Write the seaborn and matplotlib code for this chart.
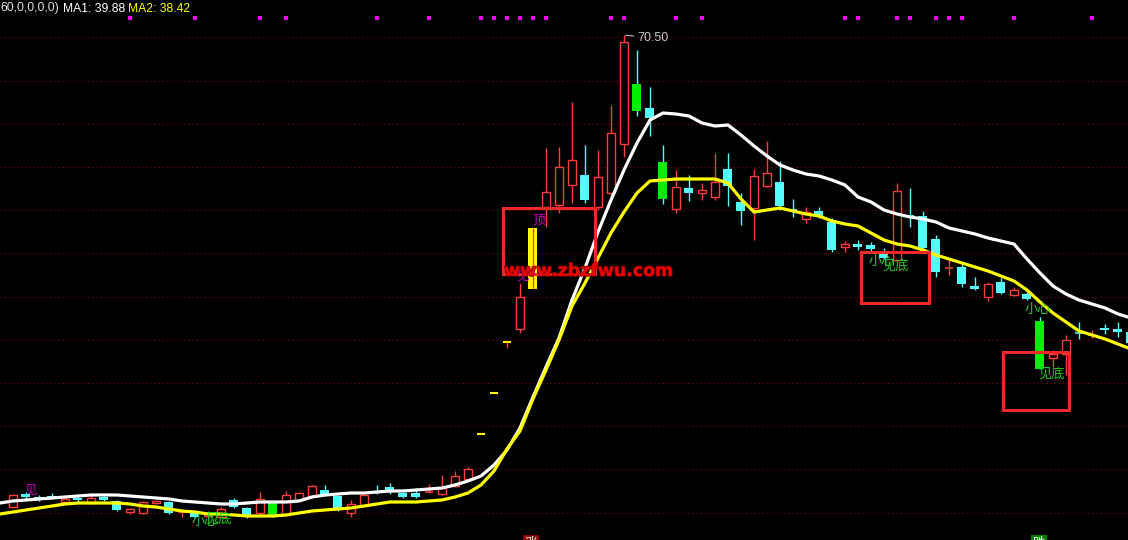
import matplotlib
matplotlib.use("Agg")
import matplotlib.pyplot as plt
import matplotlib.transforms as mtransforms
import matplotlib.patheffects as pe
from matplotlib.patches import Rectangle
import numpy as np
import pandas as pd
import seaborn as sns

# daily candles, index 0..86 (prices)
opens = [23.3, 24.6, 24.3, 24.4, 23.8, 24.2, 23.7, 24.3, 23.9, 22.8,
         22.7, 23.7, 23.8, 22.7, 22.7, 22.4, 22.3, 24.0, 23.2, 22.7,
         23.7, 22.5, 24.0, 24.4, 25.0, 24.4, 22.7, 23.4, 24.9, 25.3,
         24.7, 24.7, 24.7, 24.6, 25.4, 26.1, 30.6, 34.7, 39.8, 41.1,
         45.1, 53.3, 53.5, 55.5, 56.5, 53.3, 54.7, 59.6, 65.6, 63.2,
         57.8, 53.1, 55.2, 54.7, 54.3, 57.1, 53.8, 53.2, 55.4, 55.8,
         53.1, 52.1, 52.9, 51.8, 49.3, 49.6, 49.5, 48.9, 48.0, 52.5,
         52.4, 50.1, 47.1, 47.3, 45.4, 44.3, 45.8, 44.5, 44.6, 41.9,
         38.2, 38.6, 40.7, 40.5, 41.2, 41.1, 40.8]
highs = [24.6, 24.8, 24.5, 24.7, 24.2, 24.4, 24.7, 24.4, 24.0, 23.2,
         23.9, 24.0, 23.9, 22.8, 22.8, 22.9, 23.3, 24.2, 23.3, 24.8,
         23.8, 24.9, 24.8, 25.5, 25.5, 24.5, 24.0, 24.6, 25.5, 25.7,
         24.8, 25.2, 25.6, 26.5, 26.9, 27.3, 30.6, 34.7, 39.8, 45.7,
         51.2, 59.2, 59.3, 63.8, 59.5, 59.0, 63.5, 70.5, 69.0, 65.3,
         59.5, 57.0, 56.5, 55.7, 58.7, 58.7, 54.7, 57.1, 59.9, 57.9,
         54.1, 53.3, 53.3, 52.2, 49.9, 50.0, 49.8, 49.2, 55.7, 55.2,
         52.9, 50.5, 48.1, 47.7, 46.3, 45.8, 46.2, 45.3, 44.8, 42.3,
         39.0, 40.5, 41.8, 41.0, 41.6, 41.8, 41.0]
lows = [23.2, 24.1, 23.9, 24.1, 23.7, 23.8, 23.6, 23.9, 22.9, 22.6,
        22.6, 23.6, 22.6, 22.3, 22.2, 22.2, 22.2, 23.2, 22.2, 22.6,
        22.3, 22.4, 23.9, 24.3, 24.4, 22.9, 22.3, 23.3, 24.6, 24.6,
        24.2, 24.2, 24.7, 24.5, 25.3, 26.0, 30.6, 34.7, 39.2, 40.7,
        45.1, 51.3, 52.7, 53.7, 53.7, 53.0, 54.0, 58.3, 62.4, 60.4,
        53.6, 52.7, 53.9, 54.0, 54.0, 53.4, 51.5, 50.0, 55.3, 53.0,
        52.3, 51.7, 52.2, 48.8, 48.8, 49.0, 48.8, 48.1, 47.8, 51.3,
        48.7, 46.3, 46.5, 45.3, 45.0, 43.9, 44.6, 44.4, 44.0, 37.1,
        37.3, 36.5, 40.1, 40.2, 40.6, 40.3, 39.5]
closes = [24.5, 24.3, 24.0, 24.2, 24.1, 24.0, 24.2, 24.0, 23.0, 23.1,
          23.8, 23.9, 22.7, 22.8, 22.3, 22.7, 23.1, 23.3, 22.3, 24.1,
          22.3, 24.5, 24.7, 25.4, 24.5, 23.0, 23.6, 24.5, 24.7, 25.0,
          24.3, 24.3, 24.8, 25.2, 26.4, 27.1, 30.6, 34.7, 39.8, 44.3,
          51.2, 54.8, 57.3, 58.0, 54.0, 56.3, 60.7, 69.8, 62.9, 62.2,
          54.1, 55.3, 54.7, 55.0, 55.8, 55.4, 52.9, 56.4, 56.7, 53.4,
          52.9, 52.8, 52.4, 49.0, 49.6, 49.3, 49.1, 48.2, 54.9, 52.3,
          49.2, 46.8, 47.2, 45.6, 45.1, 45.6, 44.7, 45.0, 44.1, 37.1,
          38.6, 40.0, 40.7, 40.5, 41.0, 40.8, 39.7]
# u = up (hollow red), d = down (cyan), g = green signal bar, y = yellow signal bar
kinds = ("u d d d u d u d d u "
         "u u d u d u u d d u "
         "g u u u d d u u d d "
         "d d u u u u y y y u "
         "y u u u d u u u g d "
         "g u d u u d d u u d "
         "d u d d u d d d u d "
         "d d u d d u d u d g "
         "u u d u d d d").split()

# moving averages, index -1..86
ma_idx = list(range(-1, 87))
ma1 = [23.7, 23.9, 24.0, 24.1, 24.2, 24.3, 24.4, 24.5, 24.5, 24.5,
       24.4, 24.3, 24.2, 24.1, 23.9, 23.8, 23.7, 23.6, 23.6, 23.7,
       23.8, 23.8, 23.8, 23.9, 24.3, 24.5, 24.6, 24.7, 24.7, 24.8,
       24.9, 24.9, 25.0, 25.1, 25.2, 25.5, 25.9, 26.4, 27.5, 29.0,
       31.2, 34.3, 37.3, 40.2, 44.0, 47.2, 50.8, 54.0, 57.0, 59.7,
       62.0, 62.7, 62.6, 62.4, 61.7, 61.4, 61.5, 60.5, 59.4, 58.4,
       57.5, 57.0, 56.6, 56.4, 56.0, 55.5, 54.3, 53.8, 53.0, 52.6,
       52.3, 52.1, 51.8, 51.2, 50.9, 50.6, 50.2, 49.9, 49.6, 48.1,
       46.7, 45.4, 44.6, 44.0, 43.6, 43.2, 42.6, 42.2]
ma2 = [22.6, 22.8, 23.0, 23.2, 23.4, 23.6, 23.7, 23.7, 23.7, 23.7,
       23.6, 23.4, 23.3, 23.1, 22.9, 22.8, 22.6, 22.6, 22.5, 22.4,
       22.4, 22.4, 22.5, 22.7, 22.9, 23.0, 23.1, 23.2, 23.4, 23.6,
       23.8, 23.8, 23.8, 23.9, 24.0, 24.3, 24.7, 25.5, 26.9, 29.1,
       30.9, 34.1, 37.0, 40.0, 43.4, 45.7, 48.2, 50.7, 52.8, 54.7,
       55.9, 56.0, 56.1, 56.1, 56.1, 56.1, 55.7, 54.1, 52.8, 53.0,
       53.2, 52.9, 52.6, 52.4, 51.9, 51.6, 51.4, 50.7, 50.0, 49.6,
       49.4, 49.0, 48.5, 48.1, 47.7, 47.3, 46.9, 46.4, 45.9, 45.0,
       43.8, 42.7, 41.8, 40.9, 40.5, 40.1, 39.6, 39.1]

# bars flagged by the indicator (magenta dots at the top)
flag_idx = [9, 14, 19, 21, 28, 32, 36, 37, 38, 39, 40, 41, 46, 47, 51, 53,
            64, 65, 68, 69, 71, 72, 73, 77, 83]

grid_levels = [70.27, 65.95, 61.63, 57.31, 52.99, 48.67, 44.35, 40.03,
               35.71, 31.39, 27.07, 22.75]

RED = "#ff3c3c"
CYAN = "#54fcfc"
GREEN = "#00ee00"
YELLOW = "#ffff00"
MAGENTA = "#ff00ff"
TXT_GREEN = "#1ed21e"

sns.set_style("dark", {"axes.facecolor": "black", "figure.facecolor": "black"})
plt.rcParams["font.family"] = ["Liberation Sans", "Noto Sans CJK SC", "DejaVu Sans"]

fig = plt.figure(figsize=(11.28, 5.4), dpi=100)
ax = fig.add_axes([0, 0, 1, 1])
ax.set_xlim(-1, 85.77)
ax.set_ylim(20.0, 74.0)
ax.set_axis_off()

for lv in grid_levels:
    ax.axhline(lv, color="#a00000", lw=0.75, ls=(0, (1, 3)), zorder=1)

x = np.arange(len(opens))
o = np.array(opens)
h = np.array(highs)
l = np.array(lows)
c = np.array(closes)
k = np.array(kinds)
lo = np.minimum(o, c)
bh = np.abs(c - o)
flat = bh < 0.15

body_col = {"u": RED, "d": CYAN, "g": GREEN, "y": YELLOW}
wick_col = {"u": RED, "d": CYAN, "g": CYAN, "y": RED}

# wicks
nw = k != "y"
ax.vlines(x[nw], l[nw], h[nw], colors=[wick_col[kk] for kk in k[nw]], lw=1.0, zorder=2)

# bodies
m = (k == "u") & ~flat
ax.bar(x[m], bh[m], bottom=lo[m], width=8 / 13, facecolor="black",
       edgecolor=RED, linewidth=1.0, zorder=3)
for kk in ["d", "g", "y"]:
    m = (k == kk) & ~flat
    ax.bar(x[m], bh[m], bottom=lo[m], width=9 / 13, color=body_col[kk],
           linewidth=0, zorder=3)
for kk in ["u", "d", "y"]:
    m = (k == kk) & flat
    ax.hlines(c[m], x[m] - 0.34, x[m] + 0.34, colors=body_col[kk],
              lw=1.5 if kk == "y" else 1.1, zorder=3)
m = k == "y"
ax.vlines(x[m], l[m], h[m], colors=RED, lw=1.0, zorder=4)

# moving averages
df = pd.DataFrame({"idx": ma_idx, "ma1": ma1, "ma2": ma2})
sns.lineplot(data=df, x="idx", y="ma1", color="white", lw=2.3, ax=ax, zorder=5)
sns.lineplot(data=df, x="idx", y="ma2", color=YELLOW, lw=2.3, ax=ax, zorder=6)
ax.set_axis_off()

# indicator dots along the top
top = mtransforms.blended_transform_factory(ax.transData, ax.transAxes)
ax.scatter(flag_idx, [1 - 18 / 540] * len(flag_idx), transform=top, marker="s",
           s=8.5, color=MAGENTA, linewidths=0, zorder=6)

# highest price label
imax = int(np.argmax(h))
ax.annotate(f"{h[imax]:.2f}", xy=(imax, h[imax]), xytext=(13, -3),
            textcoords="offset pixels", color="#c8c8c8", fontsize=9,
            va="center", ha="left",
            arrowprops=dict(arrowstyle="-", color="#c8c8c8", lw=0.7,
                            shrinkA=0, shrinkB=1), zorder=8)

# signal boxes
for x0, x1, y0, y1 in [(37.69, 44.77, 46.6, 53.2), (65.23, 70.46, 43.7, 48.8),
                       (76.15, 81.23, 33.0, 38.8)]:
    ax.add_patch(Rectangle((x0, y0), x1 - x0, y1 - y0, fill=False,
                           edgecolor="#f02828", lw=2.2, zorder=7))

cjk = ["Noto Sans CJK SC", "DejaVu Sans"]
ax.text(40.4, 52.0, "顶", color="#d000d0", fontsize=9, family=cjk,
        ha="center", va="center", zorder=8)
ax.text(39.2, 46.4, "见", color="#d000d0", fontsize=9, family=cjk,
        ha="center", va="center", zorder=8)
ax.text(1.35, 25.0, "见", color="#d000d0", fontsize=9, family=cjk,
        ha="center", va="center", zorder=2)
for s, tx, ty in [("小心", 66.8, 47.85), ("见底", 67.9, 47.35),
                  ("小心", 78.8, 43.05), ("见底", 79.9, 36.6),
                  ("小心", 14.77, 21.85), ("见底", 15.8, 22.1)]:
    ax.text(tx, ty, s, color=TXT_GREEN, fontsize=9.5, family=cjk,
            ha="center", va="center", zorder=8)

ax.text(44.27, 46.9, "www.zbzfwu.com", color="#f00000", fontsize=12.5,
        family="DejaVu Sans", fontweight="bold", ha="center", va="center",
        zorder=9, path_effects=[pe.withStroke(linewidth=1, foreground="#700000")])

# markers cut by the bottom edge
ax.text(39.85, 20.3, "涨", color="white", fontsize=9, family=cjk, ha="center",
        va="top", zorder=9, bbox=dict(boxstyle="square,pad=0.15", fc="#8b0000", ec="none"))
ax.text(78.9, 20.3, "跌", color="white", fontsize=9, family=cjk, ha="center",
        va="top", zorder=9, bbox=dict(boxstyle="square,pad=0.15", fc="#008000", ec="none"))

# header
yh = 1 - 8.5 / 540
fig.text(0 / 1128, yh, "60,0,0,0,0)", color="#e0e0e0", fontsize=8.7, va="center")
fig.text(63 / 1128, yh, "MA1: 39.88", color="white", fontsize=8.7, va="center")
fig.text(128 / 1128, yh, "MA2: 38.42", color=YELLOW, fontsize=8.7, va="center")

fig.savefig("out.png", dpi=100, facecolor="black")
